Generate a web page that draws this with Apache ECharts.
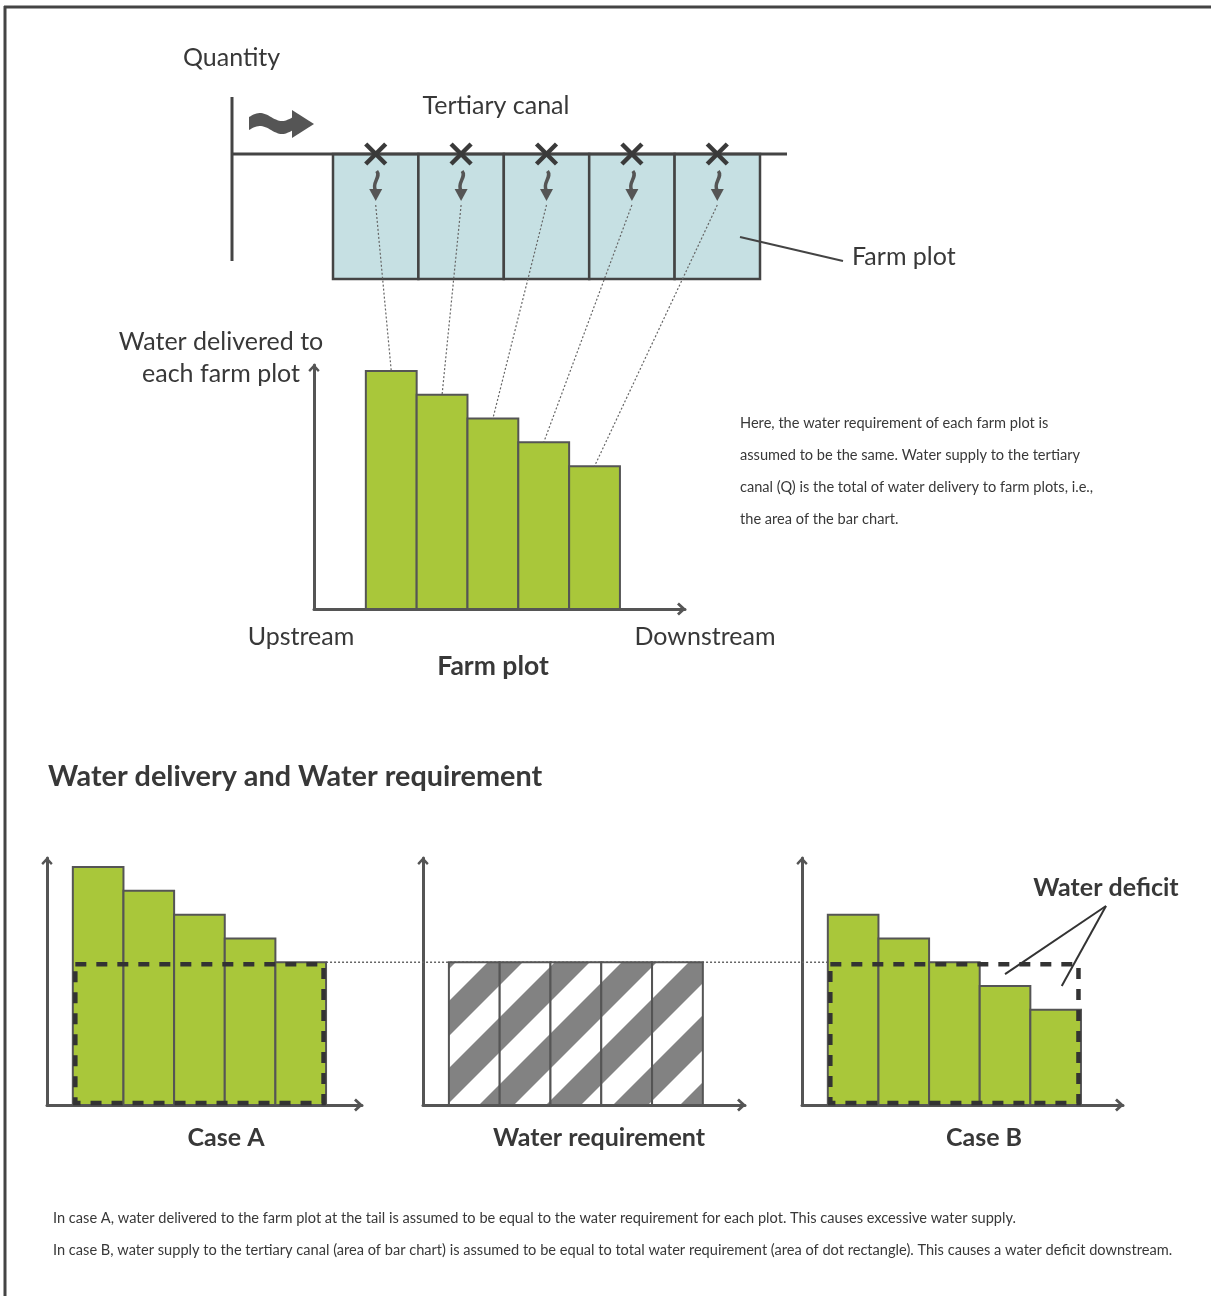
<!DOCTYPE html>
<html><head><meta charset="utf-8">
<style>html,body{margin:0;padding:0;background:#fff}#c{width:1211px;height:1296px}</style>
<script src="https://cdn.jsdelivr.net/npm/echarts@6/dist/echarts.min.js"></script>
</head><body><div id="c"></div>
<script>
// ---------------- data ----------------
const plots = ['Plot 1', 'Plot 2', 'Plot 3', 'Plot 4', 'Plot 5'];
const deliveryMain = [10, 9, 8, 7, 6];
const deliveryCaseA = [10, 9, 8, 7, 6];
const requirement = [6, 6, 6, 6, 6];
const deliveryCaseB = [8, 7, 6, 5, 4];
const chartTitle = 'Water delivery and Water requirement';
const caseLabels = ['Case A', 'Water requirement', 'Case B'];
const noteLines = [
  'Here, the water requirement of each farm plot is',
  'assumed to be the same. Water supply to the tertiary',
  'canal (Q) is the total of water delivery to farm plots, i.e.,',
  'the area of the bar chart.'
];
const footerLines = [
  'In case A, water delivered to the farm plot at the tail is assumed to be equal to the water requirement for each plot. This causes excessive water supply.',
  'In case B, water supply to the tertiary canal (area of bar chart) is assumed to be equal to total water requirement (area of dot rectangle). This causes a water deficit downstream.'
];

// ---------------- styles ----------------
const FONT = 'Lato';
const TXT = '#383838';
const AX = '#555';
const GREEN = '#a9c73a';
const CHEV = 'path://M0,11 L10,0 L20,11 L17,14 L10,6.5 L3,14 Z';

// hatch pattern (45° stripes)
const P = 67;
const pc = document.createElement('canvas');
pc.width = P; pc.height = P;
const ctx = pc.getContext('2d');
ctx.fillStyle = '#fff'; ctx.fillRect(0, 0, P, P);
ctx.strokeStyle = '#828282'; ctx.lineWidth = 35 / Math.SQRT2;
for (let k = -2; k <= 3; k++) {
  const c = 60.5 + k * P;
  ctx.beginPath(); ctx.moveTo(c + P, -P); ctx.lineTo(c - 2 * P, 2 * P); ctx.stroke();
}
const HATCH = { type: 'pattern', image: pc, repeat: 'repeat' };

const chart = echarts.init(document.getElementById('c'), null, { renderer: 'canvas' });

function xAx(gi, min, max) {
  return { type: 'value', gridIndex: gi, min, max,
    axisLine: { show: true, onZero: false, lineStyle: { color: AX, width: 3 },
      symbol: ['none', CHEV], symbolSize: [13, 9], symbolOffset: [0, -3.5] },
    axisTick: { show: false }, axisLabel: { show: false }, splitLine: { show: false } };
}
function yAx(gi, max) {
  return { type: 'value', gridIndex: gi, min: 0, max,
    axisLine: { show: true, onZero: false, lineStyle: { color: AX, width: 3 },
      symbol: ['none', CHEV], symbolSize: [12, 8], symbolOffset: [0, -3] },
    axisTick: { show: false }, axisLabel: { show: false }, splitLine: { show: false } };
}
function barSeries(gi, vals, fill) {
  return { type: 'custom', xAxisIndex: gi, yAxisIndex: gi, z: 3,
    data: vals.map((v, i) => [i, v]),
    renderItem(params, api) {
      const i = api.value(0), v = api.value(1);
      const a = api.coord([i, 0]), b = api.coord([i + 1, v]);
      return { type: 'rect', shape: { x: a[0], y: b[1], width: b[0] - a[0], height: a[1] - b[1] },
        style: { fill, stroke: '#555', lineWidth: 2 } };
    } };
}
function reqBox(gi) {
  return { type: 'custom', xAxisIndex: gi, yAxisIndex: gi, z: 5,
    data: [[requirement.length, Math.max(...requirement)]],
    renderItem(params, api) {
      const a = api.coord([0, 0]), b = api.coord([api.value(0), api.value(1)]);
      return { type: 'rect', shape: { x: a[0] + 2.5, y: b[1] + 2, width: b[0] - a[0] - 5, height: a[1] - b[1] - 4 },
        style: { fill: 'none', stroke: '#333', lineWidth: 4.5, lineDash: [11, 10] } };
    } };
}

chart.setOption({
  animation: false,
  grid: [
    { left: 314, top: 365, width: 371, height: 244 },
    { left: 47, top: 858, width: 315, height: 247 },
    { left: 423, top: 858, width: 322, height: 247 },
    { left: 802, top: 858, width: 321, height: 247 }
  ],
  xAxis: [xAx(0, -1.02, 6.28), xAx(1, -0.51, 5.71), xAx(2, -0.51, 5.83), xAx(3, -0.51, 5.83)],
  yAxis: [yAx(0, 10.25), yAx(1, 10.38), yAx(2, 10.38), yAx(3, 10.38)],
  series: [
    barSeries(0, deliveryMain, GREEN),
    barSeries(1, deliveryCaseA, GREEN),
    barSeries(2, requirement, HATCH),
    barSeries(3, deliveryCaseB, GREEN),
    reqBox(1), reqBox(3)
  ]
});

// ---------------- decorations ----------------
const px = (gi, pt) => chart.convertToPixel({ gridIndex: gi }, pt);
const G = [];
function txt(text, x, y, size, align, weight) {
  G.push({ type: 'text', z: 20, style: { text, x, y, fill: TXT, fontSize: size, fontFamily: FONT,
    fontWeight: weight || 'normal', align: align || 'left', verticalAlign: 'middle' } });
}
function line(x1, y1, x2, y2, stroke, w, dash, z) {
  G.push({ type: 'line', z: z == null ? 10 : z, shape: { x1, y1, x2, y2 },
    style: { stroke, lineWidth: w, lineDash: dash || null } });
}
// frame
line(5, 6, 5, 1296, '#444', 3);
line(4, 7, 1211, 7, '#444', 3);
// canal
line(232, 97, 232, 261, '#444', 3);
const bx0 = 333, bw = 85.4;
for (let k = 0; k < plots.length; k++) {
  G.push({ type: 'rect', z: 5, shape: { x: bx0 + k * bw, y: 154, width: bw, height: 125 },
    style: { fill: '#c6e0e3', stroke: '#444', lineWidth: 2.5 } });
}
line(232, 154, 787, 154, '#444', 3);
// inflow arrow: wavy band + head
(function () {
  const top = [], bot = [];
  for (let x = 249; x <= 294; x += 1.5) {
    const yc = 123.5 - 4 * Math.sin(2 * Math.PI * (x - 249) / 44);
    top.push([x, yc - 6.5]); bot.push([x, yc + 6.5]);
  }
  G.push({ type: 'polygon', z: 10, shape: { points: top.concat(bot.reverse()) }, style: { fill: '#555' } });
  G.push({ type: 'polygon', z: 10, shape: { points: [[292, 110], [314, 124], [292, 138]] }, style: { fill: '#555' } });
})();
// gates, small arrows, dotted links
for (let k = 0; k < plots.length; k++) {
  const cx = bx0 + k * bw + bw / 2;
  line(cx - 10, 144, cx + 10, 164, '#3a3a3a', 4.5, null, 12);
  line(cx + 10, 144, cx - 10, 164, '#3a3a3a', 4.5, null, 12);
  G.push({ type: 'bezierCurve', z: 11, shape: { x1: cx + 1, y1: 171, cpx1: cx + 6, cpy1: 177, cpx2: cx - 5, cpy2: 183, x2: cx, y2: 191 },
    style: { stroke: '#555', lineWidth: 3.5, fill: null } });
  G.push({ type: 'polygon', z: 11, shape: { points: [[cx - 6.5, 189], [cx + 6.5, 189], [cx, 201]] },
    style: { fill: '#555' } });
  const top = px(0, [k + 0.5, deliveryMain[k]]);
  line(cx, 205, top[0], top[1], '#666', 1.2, [2, 2], 11);
}
line(740, 237, 843, 261, '#444', 2);

// labels
txt('Quantity', 183, 58, 25);
txt('Tertiary canal', 496, 106, 25, 'center');
txt('Farm plot', 852, 257, 25);
txt('Water delivered to', 221, 342, 25, 'center');
txt('each farm plot', 221, 374, 25, 'center');
txt('Upstream', 301, 637, 25, 'center');
txt('Downstream', 705, 637, 25, 'center');
txt('Farm plot', 493, 666, 26.5, 'center', 'bold');
noteLines.forEach((s, i) => txt(s, 740, 423 + i * 32, 14.6));
txt(chartTitle, 48, 777, 28.8, 'left', 'bold');
txt(caseLabels[0], 226, 1138, 25, 'center', 'bold');
txt(caseLabels[1], 599, 1138, 25, 'center', 'bold');
txt(caseLabels[2], 984, 1138, 25, 'center', 'bold');
txt('Water deficit', 1106, 888, 25, 'center', 'bold');
footerLines.forEach((s, i) => txt(s, 53, 1218 + i * 32, 14.6));

// requirement level connector (Case A -> Case B)
const ca = px(1, [deliveryCaseA.length, requirement[requirement.length - 1]]);
const cb = px(3, [0, requirement[0]]);
line(ca[0], ca[1], cb[0], cb[1], '#666', 1.5, [2, 2], 1);

// deficit pointers
const d1 = px(3, [3.5, (deliveryCaseB[3] + requirement[3]) / 2]);
const d2 = px(3, [4.62, (deliveryCaseB[4] + requirement[4]) / 2]);
line(1106, 906, d1[0], d1[1], '#333', 2);
line(1106, 906, d2[0], d2[1], '#333', 2);

chart.setOption({ graphic: { elements: G } });
</script>
</body></html>
